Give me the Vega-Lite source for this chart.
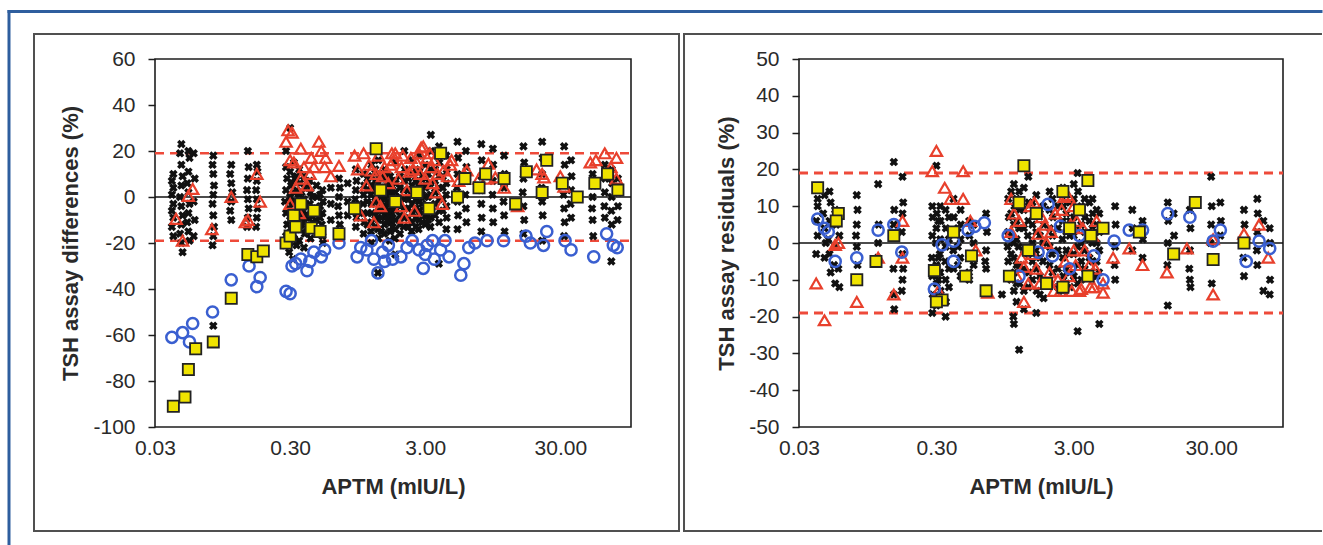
{
"$schema": "https://vega.github.io/schema/vega-lite/v6.json",
"usermeta": {"embedOptions": {"actions": false}},
"padding": {"left": 6, "top": 8, "right": 0, "bottom": 0},
"background": "white",
"config": {
  "view": {"stroke": "#1e1e1e", "strokeWidth": 1.6},
  "axis": {"labelFont": "Liberation Sans", "labelFontSize": 21, "labelColor": "#2a2a2a", "titleFont": "Liberation Sans", "titleFontSize": 22, "titleFontWeight": "bold", "titleColor": "#2a2a2a", "tickColor": "#1e1e1e", "tickWidth": 1.5, "grid": false, "domain": false}
},
"datasets": {
  "Lblue": [{"aptm": 0.002492, "aptm2": 12786000, "pct": 80.65, "pct2": 80.65}, {"aptm": 0.002492, "aptm2": 0.002492, "pct": 80.65, "pct2": -150.87}],
  "Lframe": [{"aptm": 0.003816, "aptm2": 226.6, "pct": 70.87, "pct2": -145.22}],
  "Lzero": [{"aptm": 0.03, "aptm2": 100, "pct": 0}],
  "Llim": [{"aptm": 0.03, "aptm2": 100, "pct": 19}, {"aptm": 0.03, "aptm2": 100, "pct": -19}],
  "Rframe": [{"aptm": 0.0043665, "aptm2": 189, "pct": 56.79, "pct2": 56.79}, {"aptm": 0.0043665, "aptm2": 189, "pct": -78.26, "pct2": -78.26}, {"aptm": 0.0043665, "aptm2": 0.0043665, "pct": 56.79, "pct2": -78.26}],
  "Rzero": [{"aptm": 0.03, "aptm2": 100, "pct": 0}],
  "Rlim": [{"aptm": 0.03, "aptm2": 100, "pct": 19}, {"aptm": 0.03, "aptm2": 100, "pct": -19}],
  "Lx": [
{"aptm":0.041,"pct":10},{"aptm":0.040,"pct":7},{"aptm":0.041,"pct":4},{"aptm":0.040,"pct":1},{"aptm":0.041,"pct":-3},{"aptm":0.040,"pct":-6},{"aptm":0.041,"pct":-9},{"aptm":0.040,"pct":-13},{"aptm":0.041,"pct":-17},
{"aptm":0.047,"pct":23},{"aptm":0.046,"pct":19},{"aptm":0.047,"pct":14},{"aptm":0.048,"pct":9},{"aptm":0.047,"pct":5},{"aptm":0.046,"pct":0},{"aptm":0.047,"pct":-4},{"aptm":0.048,"pct":-8},{"aptm":0.047,"pct":-12},{"aptm":0.046,"pct":-16},{"aptm":0.047,"pct":-20},{"aptm":0.048,"pct":-24},
{"aptm":0.053,"pct":20},{"aptm":0.054,"pct":17},{"aptm":0.053,"pct":11},{"aptm":0.052,"pct":6},{"aptm":0.053,"pct":2},{"aptm":0.054,"pct":-3},{"aptm":0.053,"pct":-7},{"aptm":0.052,"pct":-11},{"aptm":0.053,"pct":-15},{"aptm":0.054,"pct":-19},
{"aptm":0.058,"pct":19},{"aptm":0.059,"pct":8},{"aptm":0.058,"pct":-2},{"aptm":0.059,"pct":-10},{"aptm":0.058,"pct":-17},
{"aptm":0.081,"pct":18},{"aptm":0.080,"pct":14},{"aptm":0.081,"pct":10},{"aptm":0.082,"pct":5},{"aptm":0.081,"pct":1},{"aptm":0.080,"pct":-3},{"aptm":0.081,"pct":-8},{"aptm":0.082,"pct":-13},{"aptm":0.081,"pct":-17},{"aptm":0.080,"pct":-21},{"aptm":0.081,"pct":-56},
{"aptm":0.11,"pct":14},{"aptm":0.108,"pct":10},{"aptm":0.11,"pct":6},{"aptm":0.112,"pct":2},{"aptm":0.11,"pct":-2},{"aptm":0.108,"pct":-6},{"aptm":0.11,"pct":-10},
{"aptm":0.146,"pct":20},{"aptm":0.148,"pct":13},{"aptm":0.146,"pct":8},{"aptm":0.144,"pct":3},{"aptm":0.146,"pct":-1},{"aptm":0.148,"pct":-5},{"aptm":0.146,"pct":-9},{"aptm":0.144,"pct":-13},
{"aptm":0.17,"pct":14},{"aptm":0.172,"pct":11},{"aptm":0.17,"pct":7},{"aptm":0.168,"pct":3},{"aptm":0.17,"pct":-1},{"aptm":0.172,"pct":-5},{"aptm":0.17,"pct":-9},{"aptm":0.168,"pct":-13},
{"aptm":0.28,"pct":20},{"aptm":0.28,"pct":13},{"aptm":0.285,"pct":8},{"aptm":0.28,"pct":3},{"aptm":0.275,"pct":-2},{"aptm":0.28,"pct":-7},{"aptm":0.285,"pct":-12},{"aptm":0.28,"pct":-17},{"aptm":0.275,"pct":-21},
{"aptm":0.30,"pct":30},{"aptm":0.30,"pct":11},{"aptm":0.305,"pct":5},{"aptm":0.30,"pct":0},{"aptm":0.295,"pct":-5},{"aptm":0.30,"pct":-10},{"aptm":0.305,"pct":-15},{"aptm":0.30,"pct":-20},{"aptm":0.295,"pct":-24},
{"aptm":0.32,"pct":15},{"aptm":0.325,"pct":8},{"aptm":0.32,"pct":2},{"aptm":0.315,"pct":-3},{"aptm":0.32,"pct":-8},{"aptm":0.325,"pct":-13},{"aptm":0.32,"pct":-18},{"aptm":0.315,"pct":-27},
{"aptm":0.35,"pct":12},{"aptm":0.355,"pct":6},{"aptm":0.35,"pct":1},{"aptm":0.345,"pct":-4},{"aptm":0.35,"pct":-9},{"aptm":0.355,"pct":-14},{"aptm":0.35,"pct":-19},
{"aptm":0.38,"pct":9},{"aptm":0.385,"pct":4},{"aptm":0.38,"pct":-1},{"aptm":0.375,"pct":-6},{"aptm":0.38,"pct":-11},{"aptm":0.385,"pct":-16},{"aptm":0.38,"pct":-22},
{"aptm":0.42,"pct":7},{"aptm":0.425,"pct":2},{"aptm":0.42,"pct":-3},{"aptm":0.415,"pct":-8},{"aptm":0.42,"pct":-13},{"aptm":0.425,"pct":-18},
{"aptm":0.47,"pct":5},{"aptm":0.475,"pct":0},{"aptm":0.47,"pct":-5},{"aptm":0.465,"pct":-10},{"aptm":0.47,"pct":-15},
{"aptm":0.52,"pct":3},{"aptm":0.525,"pct":-2},{"aptm":0.52,"pct":-7},{"aptm":0.515,"pct":-12},{"aptm":0.52,"pct":-17},{"aptm":0.525,"pct":-20},
{"aptm":0.69,"pct":8},{"aptm":0.70,"pct":4},{"aptm":0.69,"pct":0},{"aptm":0.68,"pct":-4},{"aptm":0.69,"pct":-8},{"aptm":0.70,"pct":-12},{"aptm":0.69,"pct":-16},
{"aptm":0.92,"pct":12},{"aptm":0.93,"pct":7},{"aptm":0.92,"pct":3},{"aptm":0.91,"pct":-1},{"aptm":0.92,"pct":-5},{"aptm":0.93,"pct":-9},{"aptm":0.92,"pct":-13},
{"aptm":1.05,"pct":10},{"aptm":1.06,"pct":5},{"aptm":1.05,"pct":1},{"aptm":1.04,"pct":-3},{"aptm":1.05,"pct":-7},{"aptm":1.06,"pct":-11},{"aptm":1.05,"pct":-16},
{"aptm":1.2,"pct":14},{"aptm":1.21,"pct":9},{"aptm":1.2,"pct":5},{"aptm":1.19,"pct":1},{"aptm":1.2,"pct":-3},{"aptm":1.21,"pct":-7},{"aptm":1.2,"pct":-11},{"aptm":1.19,"pct":-15},{"aptm":1.2,"pct":-20},
{"aptm":1.35,"pct":16},{"aptm":1.36,"pct":10},{"aptm":1.35,"pct":6},{"aptm":1.34,"pct":2},{"aptm":1.35,"pct":-2},{"aptm":1.36,"pct":-6},{"aptm":1.35,"pct":-10},{"aptm":1.34,"pct":-14},{"aptm":1.35,"pct":-18},{"aptm":1.34,"pct":-33},
{"aptm":1.5,"pct":12},{"aptm":1.51,"pct":8},{"aptm":1.5,"pct":4},{"aptm":1.49,"pct":0},{"aptm":1.5,"pct":-4},{"aptm":1.51,"pct":-8},{"aptm":1.5,"pct":-12},{"aptm":1.49,"pct":-16},
{"aptm":1.65,"pct":9},{"aptm":1.66,"pct":5},{"aptm":1.65,"pct":1},{"aptm":1.64,"pct":-3},{"aptm":1.65,"pct":-7},{"aptm":1.66,"pct":-11},{"aptm":1.65,"pct":-15},{"aptm":1.64,"pct":-19},
{"aptm":1.8,"pct":15},{"aptm":1.81,"pct":6},{"aptm":1.8,"pct":2},{"aptm":1.79,"pct":-2},{"aptm":1.8,"pct":-6},{"aptm":1.81,"pct":-10},{"aptm":1.8,"pct":-14},{"aptm":1.79,"pct":-18},{"aptm":1.8,"pct":-25},
{"aptm":2.1,"pct":20},{"aptm":2.12,"pct":12},{"aptm":2.1,"pct":7},{"aptm":2.08,"pct":3},{"aptm":2.1,"pct":-1},{"aptm":2.12,"pct":-5},{"aptm":2.1,"pct":-9},{"aptm":2.08,"pct":-13},
{"aptm":2.4,"pct":16},{"aptm":2.42,"pct":10},{"aptm":2.4,"pct":5},{"aptm":2.38,"pct":1},{"aptm":2.4,"pct":-3},{"aptm":2.42,"pct":-7},{"aptm":2.4,"pct":-11},{"aptm":2.38,"pct":-15},
{"aptm":2.7,"pct":18},{"aptm":2.72,"pct":11},{"aptm":2.7,"pct":6},{"aptm":2.68,"pct":2},{"aptm":2.7,"pct":-2},{"aptm":2.72,"pct":-6},{"aptm":2.7,"pct":-10},{"aptm":2.68,"pct":-14},
{"aptm":3.0,"pct":14},{"aptm":3.02,"pct":8},{"aptm":3.0,"pct":4},{"aptm":2.98,"pct":0},{"aptm":3.0,"pct":-4},{"aptm":3.02,"pct":-8},{"aptm":3.0,"pct":-12},
{"aptm":3.3,"pct":27},{"aptm":3.32,"pct":20},{"aptm":3.3,"pct":12},{"aptm":3.28,"pct":6},{"aptm":3.3,"pct":1},{"aptm":3.32,"pct":-4},{"aptm":3.3,"pct":-9},{"aptm":3.28,"pct":-13},
{"aptm":3.8,"pct":22},{"aptm":3.82,"pct":15},{"aptm":3.8,"pct":9},{"aptm":3.78,"pct":4},{"aptm":3.8,"pct":-1},{"aptm":3.82,"pct":-6},{"aptm":3.8,"pct":-11},{"aptm":3.78,"pct":-29},
{"aptm":4.3,"pct":18},{"aptm":4.32,"pct":12},{"aptm":4.3,"pct":6},{"aptm":4.28,"pct":1},{"aptm":4.3,"pct":-4},{"aptm":4.32,"pct":-9},{"aptm":4.3,"pct":-14},
{"aptm":5.2,"pct":24},{"aptm":5.25,"pct":17},{"aptm":5.2,"pct":10},{"aptm":5.15,"pct":4},{"aptm":5.2,"pct":-2},{"aptm":5.25,"pct":-8},{"aptm":5.2,"pct":-14},
{"aptm":6.0,"pct":20},{"aptm":6.05,"pct":13},{"aptm":6.0,"pct":7},{"aptm":5.95,"pct":1},{"aptm":6.0,"pct":-5},{"aptm":6.05,"pct":-11},
{"aptm":7.8,"pct":23},{"aptm":7.85,"pct":16},{"aptm":7.8,"pct":9},{"aptm":7.75,"pct":3},{"aptm":7.8,"pct":-3},{"aptm":7.85,"pct":-9},{"aptm":7.8,"pct":-15},
{"aptm":9.5,"pct":21},{"aptm":9.55,"pct":14},{"aptm":9.5,"pct":7},{"aptm":9.45,"pct":1},{"aptm":9.5,"pct":-5},{"aptm":9.55,"pct":-11},
{"aptm":11.5,"pct":18},{"aptm":11.6,"pct":10},{"aptm":11.5,"pct":4},{"aptm":11.4,"pct":-2},{"aptm":11.5,"pct":-8},{"aptm":11.6,"pct":-15},
{"aptm":16,"pct":22},{"aptm":16.2,"pct":15},{"aptm":16,"pct":8},{"aptm":15.8,"pct":2},{"aptm":16,"pct":-4},{"aptm":16.2,"pct":-10},{"aptm":16,"pct":-16},
{"aptm":22,"pct":24},{"aptm":22.2,"pct":17},{"aptm":22,"pct":10},{"aptm":21.8,"pct":4},{"aptm":22,"pct":-2},{"aptm":22.2,"pct":-8},{"aptm":22,"pct":-19},
{"aptm":32,"pct":22},{"aptm":32.3,"pct":14},{"aptm":32,"pct":7},{"aptm":31.7,"pct":1},{"aptm":32,"pct":-5},{"aptm":32.3,"pct":-11},{"aptm":32,"pct":-17},
{"aptm":36,"pct":16},{"aptm":36.3,"pct":9},{"aptm":36,"pct":3},{"aptm":35.7,"pct":-3},{"aptm":36,"pct":-9},
{"aptm":52,"pct":10},{"aptm":52.5,"pct":5},{"aptm":52,"pct":0},{"aptm":51.5,"pct":-5},{"aptm":52,"pct":-10},{"aptm":52.5,"pct":-17},
{"aptm":64,"pct":14},{"aptm":64.5,"pct":8},{"aptm":64,"pct":2},{"aptm":63.5,"pct":-4},{"aptm":64,"pct":-9},
{"aptm":72,"pct":12},{"aptm":72.5,"pct":6},{"aptm":72,"pct":0},{"aptm":71.5,"pct":-6},{"aptm":72,"pct":-12},{"aptm":71.5,"pct":-28},
{"aptm":80,"pct":8},{"aptm":80.5,"pct":2},{"aptm":80,"pct":-4},{"aptm":79.5,"pct":-10},
{"aptm":1.12,"pct":8},{"aptm":1.12,"pct":3},{"aptm":1.12,"pct":-2},{"aptm":1.12,"pct":-7},{"aptm":1.12,"pct":-12},
{"aptm":1.28,"pct":12},{"aptm":1.28,"pct":7},{"aptm":1.28,"pct":3},{"aptm":1.28,"pct":-2},{"aptm":1.28,"pct":-8},{"aptm":1.28,"pct":-13},
{"aptm":1.42,"pct":9},{"aptm":1.42,"pct":4},{"aptm":1.42,"pct":-1},{"aptm":1.42,"pct":-5},{"aptm":1.42,"pct":-9},{"aptm":1.42,"pct":-15},
{"aptm":1.58,"pct":10},{"aptm":1.58,"pct":6},{"aptm":1.58,"pct":2},{"aptm":1.58,"pct":-2},{"aptm":1.58,"pct":-6},{"aptm":1.58,"pct":-10},
{"aptm":1.72,"pct":7},{"aptm":1.72,"pct":3},{"aptm":1.72,"pct":-1},{"aptm":1.72,"pct":-5},{"aptm":1.72,"pct":-9},{"aptm":1.72,"pct":-13},
{"aptm":1.95,"pct":9},{"aptm":1.95,"pct":4},{"aptm":1.95,"pct":0},{"aptm":1.95,"pct":-4},{"aptm":1.95,"pct":-8},{"aptm":1.95,"pct":-12},{"aptm":1.95,"pct":-16},
{"aptm":2.25,"pct":8},{"aptm":2.25,"pct":3},{"aptm":2.25,"pct":-1},{"aptm":2.25,"pct":-5},{"aptm":2.25,"pct":-9},{"aptm":2.25,"pct":-13},
{"aptm":2.55,"pct":12},{"aptm":2.55,"pct":7},{"aptm":2.55,"pct":3},{"aptm":2.55,"pct":-1},{"aptm":2.55,"pct":-5},{"aptm":2.55,"pct":-9},{"aptm":2.55,"pct":-13},
{"aptm":2.85,"pct":9},{"aptm":2.85,"pct":5},{"aptm":2.85,"pct":1},{"aptm":2.85,"pct":-3},{"aptm":2.85,"pct":-7},{"aptm":2.85,"pct":-11},
{"aptm":3.15,"pct":10},{"aptm":3.15,"pct":5},{"aptm":3.15,"pct":0},{"aptm":3.15,"pct":-5},{"aptm":3.15,"pct":-10},
{"aptm":3.55,"pct":12},{"aptm":3.55,"pct":7},{"aptm":3.55,"pct":2},{"aptm":3.55,"pct":-3},{"aptm":3.55,"pct":-8},
{"aptm":4.05,"pct":9},{"aptm":4.05,"pct":4},{"aptm":4.05,"pct":-1},{"aptm":4.05,"pct":-6},
{"aptm":0.31,"pct":6},{"aptm":0.31,"pct":-2},{"aptm":0.31,"pct":-9},{"aptm":0.31,"pct":-16},
{"aptm":0.335,"pct":9},{"aptm":0.335,"pct":3},{"aptm":0.335,"pct":-6},{"aptm":0.335,"pct":-12},{"aptm":0.335,"pct":-21},
{"aptm":0.365,"pct":2},{"aptm":0.365,"pct":-7},{"aptm":0.365,"pct":-12},
{"aptm":0.4,"pct":5},{"aptm":0.4,"pct":-4},{"aptm":0.4,"pct":-9},{"aptm":0.4,"pct":-15},
{"aptm":0.44,"pct":0},{"aptm":0.44,"pct":-6},{"aptm":0.44,"pct":-11},
{"aptm":0.5,"pct":1},{"aptm":0.5,"pct":-4},{"aptm":0.5,"pct":-9},
{"aptm":0.6,"pct":4},{"aptm":0.6,"pct":-3},{"aptm":0.6,"pct":-10},
{"aptm":0.8,"pct":6},{"aptm":0.8,"pct":-2},{"aptm":0.8,"pct":-8}
  ],
  "Lt": [
{"aptm":0.043,"pct":-9.5},{"aptm":0.048,"pct":-19},{"aptm":0.053,"pct":0.5},{"aptm":0.057,"pct":3.5},{"aptm":0.079,"pct":-14},{"aptm":0.11,"pct":0},{"aptm":0.146,"pct":-10},{"aptm":0.17,"pct":10},{"aptm":0.18,"pct":-2},
{"aptm":0.29,"pct":29},{"aptm":0.31,"pct":28},{"aptm":0.28,"pct":24},{"aptm":0.36,"pct":21},{"aptm":0.43,"pct":17},{"aptm":0.49,"pct":24},{"aptm":0.51,"pct":20},{"aptm":0.54,"pct":13},{"aptm":0.69,"pct":13.5},
{"aptm":0.95,"pct":12},{"aptm":1.05,"pct":19},{"aptm":1.2,"pct":11.5},{"aptm":1.3,"pct":10},{"aptm":1.5,"pct":13},{"aptm":0.33,"pct":4},{"aptm":0.35,"pct":-7},{"aptm":0.9,"pct":18},{"aptm":1.67,"pct":14},{"aptm":1.8,"pct":19},
{"aptm":2.3,"pct":11},{"aptm":2.7,"pct":19},{"aptm":2.9,"pct":22},{"aptm":3.5,"pct":16},{"aptm":4.1,"pct":11.5},{"aptm":4.6,"pct":14},{"aptm":5.3,"pct":7},{"aptm":8.8,"pct":14.5},{"aptm":8.6,"pct":8},{"aptm":11.5,"pct":4},
{"aptm":22,"pct":10},{"aptm":32,"pct":4.5},{"aptm":55,"pct":16},{"aptm":64,"pct":19},{"aptm":78,"pct":17},{"aptm":78,"pct":8},{"aptm":1.7,"pct":19},{"aptm":2.0,"pct":13},{"aptm":2.8,"pct":21.5},{"aptm":3.3,"pct":13},
{"aptm":4.7,"pct":16},{"aptm":6.1,"pct":11.5},{"aptm":9.9,"pct":8.5},{"aptm":22.7,"pct":8.5},{"aptm":50,"pct":15},{"aptm":71,"pct":13},
{"aptm":0.3,"pct":-3},{"aptm":0.4,"pct":5},{"aptm":0.6,"pct":9},{"aptm":1.1,"pct":5},{"aptm":1.4,"pct":-4},{"aptm":1.6,"pct":6},{"aptm":2.2,"pct":3},{"aptm":2.5,"pct":-6},{"aptm":3.0,"pct":8},{"aptm":3.6,"pct":2},
{"aptm":4.0,"pct":-3},{"aptm":1.0,"pct":-8},{"aptm":0.32,"pct":15},{"aptm":0.42,"pct":10},{"aptm":2.6,"pct":15},{"aptm":3.1,"pct":17},{"aptm":1.9,"pct":8},{"aptm":14.5,"pct":-4},{"aptm":20,"pct":12},{"aptm":30,"pct":9},
{"aptm":0.14,"pct":-11},{"aptm":5.8,"pct":10},{"aptm":7.5,"pct":8},{"aptm":1.25,"pct":-11},{"aptm":2.1,"pct":-9},{"aptm":3.4,"pct":6},{"aptm":0.38,"pct":13},{"aptm":1.35,"pct":18},{"aptm":2.35,"pct":17},
{"aptm":1.15,"pct":14},{"aptm":1.45,"pct":9},{"aptm":1.75,"pct":16},{"aptm":2.05,"pct":18},{"aptm":2.45,"pct":12},{"aptm":2.75,"pct":10},{"aptm":3.25,"pct":19},{"aptm":3.7,"pct":10},{"aptm":4.4,"pct":9},{"aptm":0.45,"pct":13},
{"aptm":0.55,"pct":17},{"aptm":0.3,"pct":16},{"aptm":0.36,"pct":8},{"aptm":1.3,"pct":-2},{"aptm":2.0,"pct":-4}
  ],
  "Lc": [
{"aptm":0.040,"pct":-61},{"aptm":0.048,"pct":-59},{"aptm":0.054,"pct":-63},{"aptm":0.057,"pct":-55},{"aptm":0.08,"pct":-50},{"aptm":0.11,"pct":-36},{"aptm":0.149,"pct":-30},{"aptm":0.17,"pct":-39},{"aptm":0.18,"pct":-35},
{"aptm":0.28,"pct":-41},{"aptm":0.30,"pct":-42},{"aptm":0.33,"pct":-29},{"aptm":0.36,"pct":-27},{"aptm":0.40,"pct":-32},{"aptm":0.42,"pct":-28},{"aptm":0.51,"pct":-26},{"aptm":0.54,"pct":-23},{"aptm":0.69,"pct":-20},
{"aptm":0.94,"pct":-26},{"aptm":1.11,"pct":-23},{"aptm":1.2,"pct":-19},{"aptm":1.25,"pct":-27},{"aptm":1.34,"pct":-33},{"aptm":1.45,"pct":-24},{"aptm":1.6,"pct":-21},{"aptm":1.72,"pct":-27},{"aptm":1.98,"pct":-26},
{"aptm":2.4,"pct":-19},{"aptm":2.7,"pct":-23},{"aptm":2.9,"pct":-31},{"aptm":3.1,"pct":-21},{"aptm":3.4,"pct":-19},{"aptm":3.5,"pct":-27},{"aptm":3.9,"pct":-23},{"aptm":4.2,"pct":-19},{"aptm":4.5,"pct":-26},
{"aptm":5.5,"pct":-34},{"aptm":5.8,"pct":-29},{"aptm":6.3,"pct":-22},{"aptm":7.0,"pct":-20},{"aptm":8.6,"pct":-19},{"aptm":11.4,"pct":-19},{"aptm":16.7,"pct":-17},{"aptm":18,"pct":-20},{"aptm":22.5,"pct":-21},
{"aptm":23.8,"pct":-15},{"aptm":32.5,"pct":-19},{"aptm":36,"pct":-23},{"aptm":53,"pct":-26},{"aptm":66,"pct":-16},{"aptm":74,"pct":-21},{"aptm":79,"pct":-22},
{"aptm":0.31,"pct":-30},{"aptm":0.45,"pct":-24},{"aptm":1.0,"pct":-22},{"aptm":2.2,"pct":-22},{"aptm":3.0,"pct":-25},{"aptm":1.5,"pct":-28}
  ],
  "Ls": [
{"aptm":0.041,"pct":-91},{"aptm":0.050,"pct":-87},{"aptm":0.053,"pct":-75},{"aptm":0.060,"pct":-66},{"aptm":0.081,"pct":-63},{"aptm":0.11,"pct":-44},{"aptm":0.146,"pct":-25},{"aptm":0.17,"pct":-26},{"aptm":0.19,"pct":-23.5},
{"aptm":0.28,"pct":-20},{"aptm":0.43,"pct":-13.5},{"aptm":0.69,"pct":-16},{"aptm":1.3,"pct":21},{"aptm":3.9,"pct":19},{"aptm":5.9,"pct":8},{"aptm":8.4,"pct":10},{"aptm":11.5,"pct":8},{"aptm":16.8,"pct":11},
{"aptm":23.8,"pct":16},{"aptm":31,"pct":6},{"aptm":54,"pct":6},{"aptm":67,"pct":10},{"aptm":80,"pct":3},
{"aptm":0.32,"pct":-8},{"aptm":0.36,"pct":-3},{"aptm":0.45,"pct":-6},{"aptm":0.5,"pct":-15},{"aptm":0.9,"pct":-5},{"aptm":1.4,"pct":3},{"aptm":1.8,"pct":-2},{"aptm":2.6,"pct":2},{"aptm":3.2,"pct":-5},
{"aptm":5.2,"pct":0},{"aptm":7.5,"pct":4},{"aptm":14,"pct":-3},{"aptm":22,"pct":2},{"aptm":40,"pct":0},{"aptm":0.3,"pct":-17},{"aptm":0.33,"pct":-13}
  ],
  "Rx": [
{"aptm":0.041,"pct":10},{"aptm":0.040,"pct":6},{"aptm":0.041,"pct":2},{"aptm":0.040,"pct":-3},{"aptm":0.041,"pct":12},
{"aptm":0.046,"pct":13},{"aptm":0.045,"pct":8},{"aptm":0.046,"pct":4},{"aptm":0.047,"pct":0},{"aptm":0.046,"pct":-4},
{"aptm":0.050,"pct":14},{"aptm":0.051,"pct":11},{"aptm":0.050,"pct":6},{"aptm":0.049,"pct":1},{"aptm":0.050,"pct":-3},{"aptm":0.051,"pct":-8},
{"aptm":0.055,"pct":9},{"aptm":0.056,"pct":5},{"aptm":0.055,"pct":-1},{"aptm":0.054,"pct":-6},{"aptm":0.055,"pct":-11},
{"aptm":0.058,"pct":7},{"aptm":0.059,"pct":2},{"aptm":0.058,"pct":-7},{"aptm":0.059,"pct":-12},
{"aptm":0.079,"pct":13},{"aptm":0.080,"pct":9},{"aptm":0.079,"pct":5},{"aptm":0.078,"pct":2},{"aptm":0.079,"pct":-1},{"aptm":0.080,"pct":-6},
{"aptm":0.113,"pct":16},{"aptm":0.114,"pct":5},{"aptm":0.113,"pct":0},{"aptm":0.112,"pct":-4},
{"aptm":0.147,"pct":22},{"aptm":0.148,"pct":9},{"aptm":0.147,"pct":5},{"aptm":0.146,"pct":-7},{"aptm":0.147,"pct":-14},{"aptm":0.148,"pct":-18},
{"aptm":0.17,"pct":18},{"aptm":0.172,"pct":11},{"aptm":0.17,"pct":8},{"aptm":0.168,"pct":3},{"aptm":0.17,"pct":-3},{"aptm":0.172,"pct":-7},{"aptm":0.17,"pct":-10},{"aptm":0.168,"pct":-13},
{"aptm":0.28,"pct":10},{"aptm":0.282,"pct":7},{"aptm":0.28,"pct":2},{"aptm":0.278,"pct":-4},{"aptm":0.28,"pct":-9},{"aptm":0.282,"pct":-14},{"aptm":0.28,"pct":-19},
{"aptm":0.30,"pct":21},{"aptm":0.302,"pct":8},{"aptm":0.30,"pct":4},{"aptm":0.298,"pct":0},{"aptm":0.30,"pct":-6},{"aptm":0.302,"pct":-11},{"aptm":0.30,"pct":-17},
{"aptm":0.32,"pct":10},{"aptm":0.322,"pct":6},{"aptm":0.32,"pct":1},{"aptm":0.318,"pct":-3},{"aptm":0.32,"pct":-8},{"aptm":0.322,"pct":-13},
{"aptm":0.35,"pct":9},{"aptm":0.352,"pct":4},{"aptm":0.35,"pct":-1},{"aptm":0.348,"pct":-5},{"aptm":0.35,"pct":-10},{"aptm":0.352,"pct":-16},{"aptm":0.35,"pct":-20},
{"aptm":0.40,"pct":12},{"aptm":0.402,"pct":7},{"aptm":0.40,"pct":3},{"aptm":0.398,"pct":-2},{"aptm":0.40,"pct":-7},
{"aptm":0.45,"pct":9},{"aptm":0.452,"pct":5},{"aptm":0.45,"pct":1},{"aptm":0.448,"pct":-4},{"aptm":0.45,"pct":-9},
{"aptm":0.52,"pct":6},{"aptm":0.522,"pct":2},{"aptm":0.52,"pct":-3},{"aptm":0.518,"pct":-8},{"aptm":0.52,"pct":-10},
{"aptm":0.69,"pct":8},{"aptm":0.70,"pct":3},{"aptm":0.69,"pct":-2},{"aptm":0.68,"pct":-5},{"aptm":0.69,"pct":-7},{"aptm":0.9,"pct":-14},
{"aptm":1.0,"pct":12},{"aptm":1.01,"pct":7},{"aptm":1.0,"pct":3},{"aptm":0.99,"pct":-1},{"aptm":1.0,"pct":-5},{"aptm":1.01,"pct":-9},
{"aptm":1.1,"pct":16},{"aptm":1.11,"pct":10},{"aptm":1.1,"pct":5},{"aptm":1.09,"pct":0},{"aptm":1.1,"pct":-4},{"aptm":1.11,"pct":-8},{"aptm":1.1,"pct":-13},{"aptm":1.09,"pct":-20},{"aptm":1.1,"pct":-22},
{"aptm":1.2,"pct":14},{"aptm":1.21,"pct":9},{"aptm":1.2,"pct":4},{"aptm":1.19,"pct":-1},{"aptm":1.2,"pct":-6},{"aptm":1.21,"pct":-11},{"aptm":1.2,"pct":-29},
{"aptm":1.4,"pct":18},{"aptm":1.41,"pct":11},{"aptm":1.4,"pct":6},{"aptm":1.39,"pct":2},{"aptm":1.4,"pct":-3},{"aptm":1.41,"pct":-8},{"aptm":1.4,"pct":-12},
{"aptm":1.6,"pct":13},{"aptm":1.61,"pct":8},{"aptm":1.6,"pct":3},{"aptm":1.59,"pct":-2},{"aptm":1.6,"pct":-7},{"aptm":1.61,"pct":-13},{"aptm":1.6,"pct":-19},
{"aptm":1.8,"pct":10},{"aptm":1.81,"pct":5},{"aptm":1.8,"pct":0},{"aptm":1.79,"pct":-5},{"aptm":1.8,"pct":-10},{"aptm":1.81,"pct":-15},
{"aptm":2.1,"pct":12},{"aptm":2.12,"pct":7},{"aptm":2.1,"pct":2},{"aptm":2.08,"pct":-3},{"aptm":2.1,"pct":-8},
{"aptm":2.5,"pct":15},{"aptm":2.52,"pct":10},{"aptm":2.5,"pct":6},{"aptm":2.48,"pct":1},{"aptm":2.5,"pct":-4},{"aptm":2.52,"pct":-9},{"aptm":2.5,"pct":-13},
{"aptm":2.8,"pct":11},{"aptm":2.82,"pct":6},{"aptm":2.8,"pct":2},{"aptm":2.78,"pct":-3},{"aptm":2.8,"pct":-8},{"aptm":2.82,"pct":-12},
{"aptm":3.2,"pct":19},{"aptm":3.22,"pct":14},{"aptm":3.2,"pct":9},{"aptm":3.18,"pct":4},{"aptm":3.2,"pct":-1},{"aptm":3.22,"pct":-6},{"aptm":3.2,"pct":-11},{"aptm":3.2,"pct":-24},
{"aptm":3.6,"pct":12},{"aptm":3.62,"pct":7},{"aptm":3.6,"pct":3},{"aptm":3.58,"pct":-2},{"aptm":3.6,"pct":-7},
{"aptm":4.1,"pct":12},{"aptm":4.12,"pct":8},{"aptm":4.1,"pct":4},{"aptm":4.08,"pct":0},{"aptm":4.1,"pct":-5},{"aptm":4.12,"pct":-9},
{"aptm":4.6,"pct":8},{"aptm":4.62,"pct":3},{"aptm":4.6,"pct":-2},{"aptm":4.58,"pct":-8},{"aptm":4.6,"pct":-22},
{"aptm":6.0,"pct":10},{"aptm":6.05,"pct":5},{"aptm":6.0,"pct":-1},{"aptm":5.95,"pct":-6},{"aptm":6.0,"pct":-10},
{"aptm":8.0,"pct":9},{"aptm":8.05,"pct":4},{"aptm":8.0,"pct":-2},
{"aptm":9.5,"pct":6},{"aptm":9.55,"pct":1},{"aptm":9.5,"pct":-4},
{"aptm":14.5,"pct":11},{"aptm":14.6,"pct":6},{"aptm":14.5,"pct":0},{"aptm":14.4,"pct":-6},{"aptm":14.5,"pct":-17},
{"aptm":16,"pct":8},{"aptm":16.1,"pct":2},{"aptm":16,"pct":-3},
{"aptm":21,"pct":9},{"aptm":21.2,"pct":4},{"aptm":21,"pct":-2},{"aptm":20.8,"pct":-7},{"aptm":21,"pct":-10},{"aptm":21.2,"pct":-12},
{"aptm":30,"pct":18},{"aptm":30.3,"pct":10},{"aptm":30,"pct":5},{"aptm":29.7,"pct":0},{"aptm":30,"pct":-4},{"aptm":30.3,"pct":-11},
{"aptm":35,"pct":11},{"aptm":35.3,"pct":6},{"aptm":35,"pct":2},
{"aptm":52,"pct":9},{"aptm":52.5,"pct":5},{"aptm":52,"pct":0},{"aptm":51.5,"pct":-4},{"aptm":52,"pct":-9},
{"aptm":65,"pct":12},{"aptm":65.5,"pct":8},{"aptm":65,"pct":3},{"aptm":64.5,"pct":-2},{"aptm":65,"pct":-6},
{"aptm":72,"pct":6},{"aptm":72,"pct":-13},
{"aptm":80,"pct":4},{"aptm":80.5,"pct":0},{"aptm":80,"pct":-14},{"aptm":80.5,"pct":-10},
{"aptm":1.05,"pct":14},{"aptm":1.05,"pct":8},{"aptm":1.05,"pct":2},{"aptm":1.05,"pct":-3},{"aptm":1.05,"pct":-10},
{"aptm":1.15,"pct":12},{"aptm":1.15,"pct":6},{"aptm":1.15,"pct":1},{"aptm":1.15,"pct":-6},{"aptm":1.15,"pct":-11},{"aptm":1.15,"pct":-16},
{"aptm":1.3,"pct":15},{"aptm":1.3,"pct":9},{"aptm":1.3,"pct":4},{"aptm":1.3,"pct":-2},{"aptm":1.3,"pct":-7},{"aptm":1.3,"pct":-13},{"aptm":1.3,"pct":-18},
{"aptm":1.5,"pct":11},{"aptm":1.5,"pct":5},{"aptm":1.5,"pct":0},{"aptm":1.5,"pct":-5},{"aptm":1.5,"pct":-10},
{"aptm":1.7,"pct":8},{"aptm":1.7,"pct":2},{"aptm":1.7,"pct":-4},{"aptm":1.7,"pct":-9},{"aptm":1.7,"pct":-14},
{"aptm":2.0,"pct":14},{"aptm":2.0,"pct":9},{"aptm":2.0,"pct":4},{"aptm":2.0,"pct":-1},{"aptm":2.0,"pct":-6},{"aptm":2.0,"pct":-11},
{"aptm":2.3,"pct":10},{"aptm":2.3,"pct":4},{"aptm":2.3,"pct":-2},{"aptm":2.3,"pct":-7},{"aptm":2.3,"pct":-12},
{"aptm":2.65,"pct":13},{"aptm":2.65,"pct":8},{"aptm":2.65,"pct":3},{"aptm":2.65,"pct":-2},{"aptm":2.65,"pct":-7},{"aptm":2.65,"pct":-11},
{"aptm":3.0,"pct":16},{"aptm":3.0,"pct":12},{"aptm":3.0,"pct":7},{"aptm":3.0,"pct":2},{"aptm":3.0,"pct":-3},{"aptm":3.0,"pct":-9},
{"aptm":3.4,"pct":10},{"aptm":3.4,"pct":5},{"aptm":3.4,"pct":0},{"aptm":3.4,"pct":-5},{"aptm":3.4,"pct":-10},
{"aptm":3.9,"pct":11},{"aptm":3.9,"pct":6},{"aptm":3.9,"pct":1},{"aptm":3.9,"pct":-4},{"aptm":3.9,"pct":-8},
{"aptm":4.4,"pct":9},{"aptm":4.4,"pct":5},{"aptm":4.4,"pct":0},{"aptm":4.4,"pct":-5},{"aptm":4.4,"pct":-9},
{"aptm":0.31,"pct":6},{"aptm":0.31,"pct":-4},{"aptm":0.31,"pct":-10},{"aptm":0.31,"pct":-15},
{"aptm":0.37,"pct":7},{"aptm":0.37,"pct":1},{"aptm":0.37,"pct":-7},{"aptm":0.37,"pct":-12},
{"aptm":0.43,"pct":4},{"aptm":0.43,"pct":-1},{"aptm":0.43,"pct":-6},
{"aptm":0.56,"pct":5},{"aptm":0.56,"pct":0},{"aptm":0.56,"pct":-6}
  ],
  "Rt": [
{"aptm":0.040,"pct":-11},{"aptm":0.046,"pct":-21},{"aptm":0.055,"pct":-0.5},{"aptm":0.058,"pct":0},{"aptm":0.079,"pct":-16},{"aptm":0.113,"pct":-4},{"aptm":0.147,"pct":-14},{"aptm":0.17,"pct":6},{"aptm":0.17,"pct":-4},
{"aptm":0.28,"pct":19.5},{"aptm":0.30,"pct":25},{"aptm":0.31,"pct":-13},{"aptm":0.345,"pct":15},{"aptm":0.38,"pct":12},{"aptm":0.47,"pct":19.5},{"aptm":0.47,"pct":12},{"aptm":0.53,"pct":6},{"aptm":0.58,"pct":-2},{"aptm":0.71,"pct":-13.5},
{"aptm":1.05,"pct":12},{"aptm":1.05,"pct":3},{"aptm":1.3,"pct":-16},{"aptm":1.3,"pct":-6.5},{"aptm":1.55,"pct":11},{"aptm":1.65,"pct":2.5},{"aptm":1.7,"pct":-11},{"aptm":1.85,"pct":5},
{"aptm":2.4,"pct":-13},{"aptm":2.55,"pct":12.5},{"aptm":2.85,"pct":5},{"aptm":3.0,"pct":-2},{"aptm":3.4,"pct":-12.5},{"aptm":3.9,"pct":-6},{"aptm":4.1,"pct":2},{"aptm":4.9,"pct":-13.5},{"aptm":4.9,"pct":-11},{"aptm":5.8,"pct":-4},
{"aptm":7.6,"pct":-1.5},{"aptm":9.5,"pct":-6},{"aptm":14.3,"pct":-8},{"aptm":20,"pct":-1.5},{"aptm":31,"pct":-14},{"aptm":31,"pct":1},{"aptm":52,"pct":2.5},{"aptm":67,"pct":5},{"aptm":78,"pct":-4},
{"aptm":2.2,"pct":8},{"aptm":2.6,"pct":-5},{"aptm":3.0,"pct":10},{"aptm":3.5,"pct":4},{"aptm":3.8,"pct":-9},{"aptm":4.4,"pct":6},{"aptm":2.0,"pct":-8},{"aptm":1.5,"pct":-3},{"aptm":1.2,"pct":6},{"aptm":2.9,"pct":-13},
{"aptm":3.3,"pct":-13},{"aptm":4.2,"pct":-12},{"aptm":1.9,"pct":0},{"aptm":1.15,"pct":-9},{"aptm":2.7,"pct":13},
{"aptm":1.1,"pct":8},{"aptm":1.4,"pct":-11},{"aptm":1.6,"pct":-7},{"aptm":1.75,"pct":7},{"aptm":2.05,"pct":3},{"aptm":2.3,"pct":-10},{"aptm":2.45,"pct":9},{"aptm":2.75,"pct":-9},{"aptm":3.1,"pct":-6},{"aptm":3.15,"pct":6},
{"aptm":3.6,"pct":-2},{"aptm":3.95,"pct":-12},{"aptm":4.3,"pct":-7},{"aptm":2.15,"pct":-13},{"aptm":1.45,"pct":10},{"aptm":1.25,"pct":-4}
  ],
  "Rc": [
{"aptm":0.041,"pct":6.5},{"aptm":0.046,"pct":4},{"aptm":0.049,"pct":3},{"aptm":0.055,"pct":-5},{"aptm":0.079,"pct":-4},{"aptm":0.113,"pct":3.5},{"aptm":0.147,"pct":5},{"aptm":0.168,"pct":-2.5},
{"aptm":0.29,"pct":-12.5},{"aptm":0.33,"pct":-0.5},{"aptm":0.40,"pct":0.5},{"aptm":0.40,"pct":-5},{"aptm":0.51,"pct":3.5},{"aptm":0.57,"pct":4.5},{"aptm":0.67,"pct":5.5},
{"aptm":1.0,"pct":2},{"aptm":1.2,"pct":-9},{"aptm":1.65,"pct":-2.5},{"aptm":1.95,"pct":10.5},{"aptm":2.1,"pct":-3.5},{"aptm":2.4,"pct":4.5},{"aptm":2.8,"pct":-7},{"aptm":3.3,"pct":2},{"aptm":4.2,"pct":-3.5},
{"aptm":4.9,"pct":-10},{"aptm":5.9,"pct":0.5},{"aptm":7.6,"pct":3.5},{"aptm":9.5,"pct":3.5},{"aptm":14.5,"pct":8},{"aptm":21,"pct":7},{"aptm":31,"pct":0.5},{"aptm":35,"pct":3.5},{"aptm":54,"pct":-5},{"aptm":67,"pct":0.5},{"aptm":80,"pct":-1.5}
  ],
  "Rs": [
{"aptm":0.041,"pct":15},{"aptm":0.058,"pct":8},{"aptm":0.056,"pct":6},{"aptm":0.079,"pct":-10},{"aptm":0.109,"pct":-5},{"aptm":0.147,"pct":2},{"aptm":0.29,"pct":-7.5},{"aptm":0.33,"pct":-15.5},{"aptm":0.30,"pct":-16},
{"aptm":0.54,"pct":-3.5},{"aptm":0.49,"pct":-9},{"aptm":0.69,"pct":-13},{"aptm":1.02,"pct":-9},{"aptm":1.3,"pct":21},{"aptm":1.2,"pct":11},{"aptm":1.6,"pct":8},{"aptm":1.9,"pct":-11},{"aptm":2.5,"pct":14},{"aptm":2.5,"pct":-12},
{"aptm":3.3,"pct":9},{"aptm":3.8,"pct":17},{"aptm":3.8,"pct":-9},{"aptm":4.9,"pct":4},{"aptm":16,"pct":-3},{"aptm":23,"pct":11},{"aptm":31,"pct":-4.5},{"aptm":52,"pct":0},
{"aptm":0.4,"pct":3},{"aptm":1.4,"pct":-2},{"aptm":2.8,"pct":4},{"aptm":4.0,"pct":2},{"aptm":9,"pct":3}
  ]
},
"bounds": "flush",
"spacing": 168,
"hconcat": [
  {
    "width": 476, "height": 368,
    "encoding": {
      "x": {"field": "aptm", "type": "quantitative", "scale": {"type": "log", "domain": [0.03, 100], "nice": false},
            "axis": {"values": [0.03, 0.3, 3, 30], "format": ".2f", "title": "APTM (mIU/L)", "ticks": false, "tickSize": 0, "labelPadding": 10, "labelFlush": false, "titlePadding": 18}},
      "y": {"field": "pct", "type": "quantitative", "scale": {"domain": [-100, 60], "nice": false, "zero": false},
            "axis": {"values": [-100, -80, -60, -40, -20, 0, 20, 40, 60], "labelExpr": "replace(datum.label, '\u2212', '-')", "title": "TSH assay differences (%)", "tickSize": 7, "labelPadding": 13, "titlePadding": 10}}
    },
    "layer": [
      {"data": {"name": "Lblue"}, "mark": {"type": "rule", "color": "#2e5e9e", "strokeWidth": 3, "strokeCap": "square"}, "encoding": {"x2": {"field": "aptm2"}, "y2": {"field": "pct2"}}},
      {"data": {"name": "Lframe"}, "mark": {"type": "rect", "filled": false, "stroke": "#505050", "strokeWidth": 2}, "encoding": {"x2": {"field": "aptm2"}, "y2": {"field": "pct2"}}},
      {"data": {"name": "Llim"}, "mark": {"type": "rule", "color": "#ee4a3a", "strokeWidth": 2.5, "strokeDash": [9, 6]}, "encoding": {"x2": {"field": "aptm2"}}},
      {"data": {"name": "Lzero"}, "mark": {"type": "rule", "color": "#111111", "strokeWidth": 1.6}, "encoding": {"x2": {"field": "aptm2"}}},
      {"data": {"name": "Lx"}, "mark": {"type": "point", "shape": "cross", "angle": 45, "filled": true, "color": "#111111", "size": 75, "opacity": 1}},
      {"data": {"name": "Lt"}, "mark": {"type": "point", "shape": "triangle-up", "filled": false, "color": "#e8402c", "strokeWidth": 2.2, "size": 130, "opacity": 1}},
      {"data": {"name": "Lc"}, "mark": {"type": "point", "shape": "circle", "filled": false, "color": "#3a5fd0", "strokeWidth": 2.5, "size": 125, "opacity": 1}},
      {"data": {"name": "Ls"}, "mark": {"type": "point", "shape": "square", "filled": true, "fill": "#efe300", "stroke": "#222222", "strokeWidth": 1.8, "size": 125, "opacity": 1}}
    ]
  },
  {
    "width": 484, "height": 368,
    "encoding": {
      "x": {"field": "aptm", "type": "quantitative", "scale": {"type": "log", "domain": [0.03, 100], "nice": false},
            "axis": {"values": [0.03, 0.3, 3, 30], "format": ".2f", "title": "APTM (mIU/L)", "ticks": false, "tickSize": 0, "labelPadding": 10, "labelFlush": false, "titlePadding": 18}},
      "y": {"field": "pct", "type": "quantitative", "scale": {"domain": [-50, 50], "nice": false, "zero": false},
            "axis": {"values": [-50, -40, -30, -20, -10, 0, 10, 20, 30, 40, 50], "labelExpr": "replace(datum.label, '\u2212', '-')", "title": "TSH assay residuals (%)", "tickSize": 7, "labelPadding": 13, "titlePadding": 10}}
    },
    "layer": [
      {"data": {"name": "Rframe"}, "mark": {"type": "rule", "color": "#505050", "strokeWidth": 2, "strokeCap": "square"}, "encoding": {"x2": {"field": "aptm2"}, "y2": {"field": "pct2"}}},
      {"data": {"name": "Rlim"}, "mark": {"type": "rule", "color": "#ee4a3a", "strokeWidth": 3, "strokeDash": [9, 6]}, "encoding": {"x2": {"field": "aptm2"}}},
      {"data": {"name": "Rzero"}, "mark": {"type": "rule", "color": "#111111", "strokeWidth": 1.6}, "encoding": {"x2": {"field": "aptm2"}}},
      {"data": {"name": "Rx"}, "mark": {"type": "point", "shape": "cross", "angle": 45, "filled": true, "color": "#111111", "size": 75, "opacity": 1}},
      {"data": {"name": "Rt"}, "mark": {"type": "point", "shape": "triangle-up", "filled": false, "color": "#e8402c", "strokeWidth": 2.2, "size": 130, "opacity": 1}},
      {"data": {"name": "Rc"}, "mark": {"type": "point", "shape": "circle", "filled": false, "color": "#3a5fd0", "strokeWidth": 2.5, "size": 125, "opacity": 1}},
      {"data": {"name": "Rs"}, "mark": {"type": "point", "shape": "square", "filled": true, "fill": "#efe300", "stroke": "#222222", "strokeWidth": 1.8, "size": 125, "opacity": 1}}
    ]
  }
]
}
